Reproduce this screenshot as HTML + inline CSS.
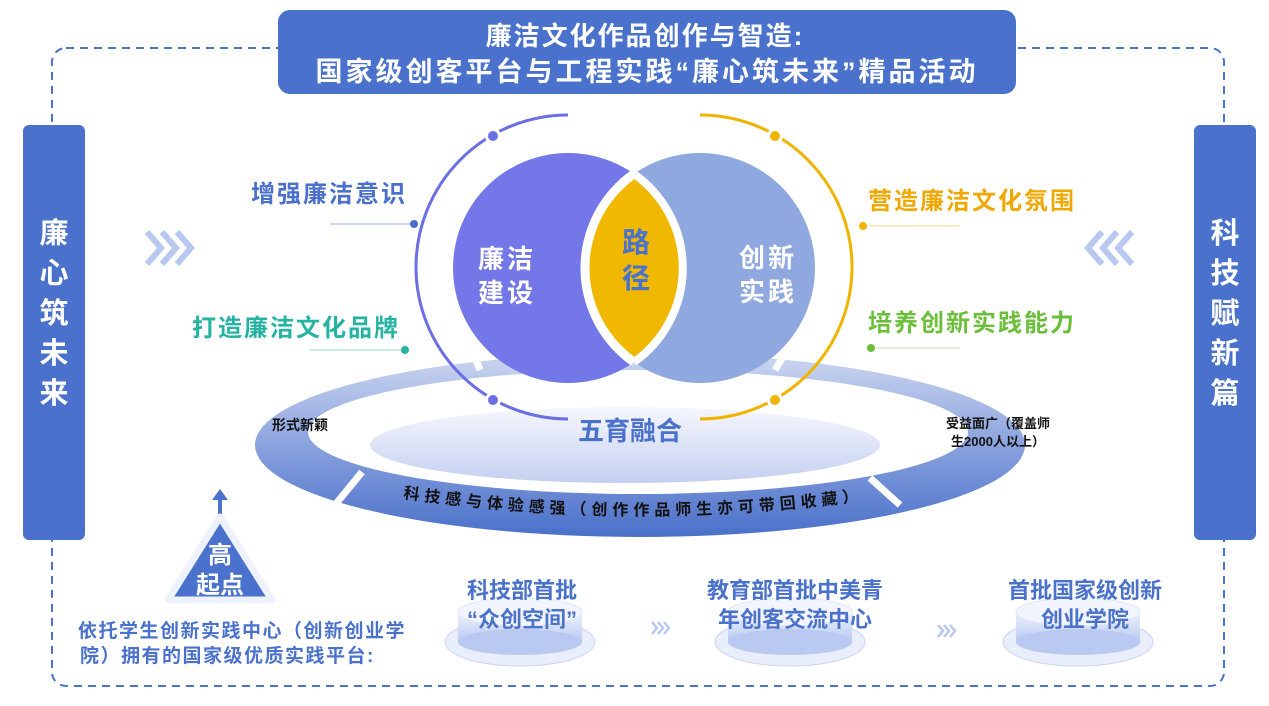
<!DOCTYPE html>
<html><head><meta charset="utf-8"><style>
body{margin:0;width:1269px;height:701px;background:#fff;overflow:hidden;font-family:"Liberation Sans","Noto Sans CJK SC",sans-serif;}
</style></head><body>
<svg width="1269" height="701" viewBox="0 0 1269 701" xmlns="http://www.w3.org/2000/svg" font-family="Liberation Sans, Noto Sans CJK SC, sans-serif" font-weight="bold">
<defs>
<linearGradient id="ring" x1="0" y1="0" x2="0" y2="1"><stop offset="0" stop-color="#cdd7f0"/><stop offset="0.6" stop-color="#7d98da"/><stop offset="1" stop-color="#4a70c9"/></linearGradient>
<linearGradient id="inner" x1="0" y1="0" x2="0" y2="1"><stop offset="0" stop-color="#f6f7fd"/><stop offset="1" stop-color="#c4d0f0"/></linearGradient>
<linearGradient id="plat" x1="0" y1="0" x2="0" y2="1"><stop offset="0" stop-color="#eef2fd"/><stop offset="1" stop-color="#b9c9f2"/></linearGradient>
<clipPath id="lc"><circle cx="568" cy="268" r="115"/></clipPath>
<path id="tp" d="M403 498 Q640 533 880 498"/>
</defs>
<rect x="52" y="48" width="1172" height="638" rx="14" fill="none" stroke="#4a72cc" stroke-width="2" stroke-dasharray="8,6"/>
<rect x="278" y="10" width="738" height="84" rx="12" fill="#4a72cc"/>
<text x="645" y="45" text-anchor="middle" font-size="26" letter-spacing="2" fill="#fff">廉洁文化作品创作与智造:</text>
<text x="647" y="81" text-anchor="middle" font-size="27" letter-spacing="3" fill="#fff">国家级创客平台与工程实践“廉心筑未来”精品活动</text>
<rect x="23" y="125" width="62" height="415" rx="6" fill="#4a72cc"/>
<rect x="1194" y="125" width="62" height="415" rx="6" fill="#4a72cc"/>
<g font-size="29" fill="#fff" text-anchor="middle">
<text x="54" y="243">廉</text><text x="54" y="283">心</text><text x="54" y="323">筑</text><text x="54" y="363">未</text><text x="54" y="403">来</text>
<text x="1225" y="243">科</text><text x="1225" y="283">技</text><text x="1225" y="323">赋</text><text x="1225" y="363">新</text><text x="1225" y="403">篇</text>
</g>
<g fill="none" stroke="#b8c8ef" stroke-width="6">
<path d="M147 232l14 16-14 16M162 232l14 16-14 16M177 232l14 16-14 16"/>
<path d="M1132 232l-14 16 14 16M1117 232l-14 16 14 16M1102 232l-14 16 14 16"/>
</g>
<ellipse cx="640" cy="445" rx="385" ry="92" fill="url(#ring)"/>
<ellipse cx="638" cy="432" rx="330" ry="62" fill="#fff"/>
<ellipse cx="625" cy="445" rx="255" ry="38" fill="url(#inner)"/>
<g stroke="#fff" stroke-width="7">
<line x1="362" y1="472" x2="335" y2="505"/><line x1="870" y1="478" x2="900" y2="505"/>
<line x1="480" y1="370" x2="470" y2="345"/><line x1="775" y1="370" x2="790" y2="345"/>
</g>
<text x="300" y="430" font-size="14" fill="#111" text-anchor="middle">形式新颖</text>
<text x="998" y="428" font-size="13" fill="#111" text-anchor="middle">受益面广（覆盖师</text>
<text x="998" y="446" font-size="13" fill="#111" text-anchor="middle">生2000人以上）</text>
<text font-size="16" fill="#111" letter-spacing="5"><textPath href="#tp">科技感与体验感强（创作作品师生亦可带回收藏）</textPath></text>
<path d="M568 115 A152 152 0 0 0 568 419" fill="none" stroke="#6a6fe4" stroke-width="3"/>
<path d="M700 115 A152 152 0 0 1 700 419" fill="none" stroke="#f0b400" stroke-width="3"/>
<circle cx="493" cy="136" r="8" fill="#fff"/><circle cx="493" cy="400" r="8" fill="#fff"/>
<circle cx="775" cy="136" r="8" fill="#fff"/><circle cx="775" cy="400" r="8" fill="#fff"/>
<circle cx="493" cy="136" r="5" fill="#6a6fe4"/><circle cx="493" cy="400" r="5" fill="#6a6fe4"/>
<circle cx="775" cy="136" r="5" fill="#f0b400"/><circle cx="775" cy="400" r="5" fill="#f0b400"/>
<text x="630" y="440" font-size="26" fill="#4a72cc" text-anchor="middle">五育融合</text>
<circle cx="568" cy="268" r="115" fill="#7377e8"/>
<circle cx="700" cy="268" r="115" fill="#8fa9e0"/>
<g clip-path="url(#lc)"><circle cx="700" cy="268" r="115" fill="#f0b800" stroke="#fff" stroke-width="9"/></g>
<g fill="none" stroke="#fff" stroke-width="8"><path d="M634 174 A115 115 0 0 1 634 362"/></g>
<path d="M634 174 A115 115 0 0 1 634 362" fill="none" stroke="#fff" stroke-width="8" transform="translate(1268 0) scale(-1 1)"/>
<text x="507" y="268" font-size="26" fill="#fff" text-anchor="middle" letter-spacing="3">廉洁</text>
<text x="507" y="302" font-size="26" fill="#fff" text-anchor="middle" letter-spacing="3">建设</text>
<text x="636" y="252" font-size="28" fill="#4a72cc" text-anchor="middle">路</text>
<text x="636" y="288" font-size="28" fill="#4a72cc" text-anchor="middle">径</text>
<text x="768" y="267" font-size="26" fill="#fff" text-anchor="middle" letter-spacing="3">创新</text>
<text x="768" y="301" font-size="26" fill="#fff" text-anchor="middle" letter-spacing="3">实践</text>
<text x="251" y="202" font-size="24" letter-spacing="2" fill="#4a6fcc">增强廉洁意识</text>
<line x1="330" y1="224" x2="412" y2="224" stroke="#cfd6f5" stroke-width="2"/><circle cx="414" cy="224" r="4" fill="#4a6fcc"/>
<text x="192" y="336" font-size="24" letter-spacing="2" fill="#25b4a2">打造廉洁文化品牌</text>
<line x1="310" y1="350" x2="403" y2="350" stroke="#c8ede7" stroke-width="2"/><circle cx="405" cy="350" r="4" fill="#25b4a2"/>
<text x="868" y="209" font-size="24" letter-spacing="2" fill="#f0a800">营造廉洁文化氛围</text>
<circle cx="863" cy="226" r="4" fill="#f0b400"/><line x1="868" y1="226" x2="960" y2="226" stroke="#fbecc4" stroke-width="2"/>
<text x="868" y="331" font-size="24" letter-spacing="2" fill="#6cbf3a">培养创新实践能力</text>
<circle cx="871" cy="348" r="4" fill="#6cbf3a"/><line x1="876" y1="348" x2="960" y2="348" stroke="#e0f2d6" stroke-width="2"/>
<path d="M220 494 v24" stroke="#4a72cc" stroke-width="4"/><path d="M212 500 L220 489 L228 500Z" fill="#4a72cc"/>
<path d="M220 517 L272 600 L168 600Z" fill="#4a72cc" stroke="#eef2fc" stroke-width="7" stroke-linejoin="round"/>
<text x="220" y="563" font-size="24" fill="#fff" text-anchor="middle">高</text>
<text x="220" y="593" font-size="24" fill="#fff" text-anchor="middle">起点</text>
<text x="78" y="637" font-size="19" letter-spacing="1.5" fill="#4a72cc">依托学生创新实践中心（创新创业学</text>
<text x="80" y="662" font-size="19" letter-spacing="1.5" fill="#4a72cc">院）拥有的国家级优质实践平台:</text>
<g>
<ellipse cx="520" cy="642" rx="75" ry="24" fill="#e9eefc" stroke="#c9d6f4"/>
<rect x="458" y="612" width="124" height="30" fill="url(#plat)"/>
<ellipse cx="520" cy="642" rx="62" ry="13" fill="#b9c9f2"/>
<ellipse cx="520" cy="612" rx="62" ry="14" fill="#f2f5fd" stroke="#dfe6f9"/>
<ellipse cx="790" cy="642" rx="75" ry="24" fill="#e9eefc" stroke="#c9d6f4"/>
<rect x="728" y="612" width="124" height="30" fill="url(#plat)"/>
<ellipse cx="790" cy="642" rx="62" ry="13" fill="#b9c9f2"/>
<ellipse cx="790" cy="612" rx="62" ry="14" fill="#f2f5fd" stroke="#dfe6f9"/>
<ellipse cx="1078" cy="642" rx="75" ry="24" fill="#e9eefc" stroke="#c9d6f4"/>
<rect x="1016" y="612" width="124" height="30" fill="url(#plat)"/>
<ellipse cx="1078" cy="642" rx="62" ry="13" fill="#b9c9f2"/>
<ellipse cx="1078" cy="612" rx="62" ry="14" fill="#f2f5fd" stroke="#dfe6f9"/>
</g>
<g font-size="22" fill="#4a72cc" text-anchor="middle">
<text x="522" y="598">科技部首批</text><text x="522" y="627">“众创空间”</text>
<text x="795" y="598">教育部首批中美青</text><text x="795" y="627">年创客交流中心</text>
<text x="1085" y="598">首批国家级创新</text><text x="1085" y="627">创业学院</text>
</g>
<g fill="none" stroke="#b8c8ef" stroke-width="2.5">
<path d="M652 622l5 6-5 6M658 622l5 6-5 6M664 622l5 6-5 6"/>
<path d="M938 625l5 6-5 6M944 625l5 6-5 6M950 625l5 6-5 6"/>
</g>
</svg>
</body></html>
